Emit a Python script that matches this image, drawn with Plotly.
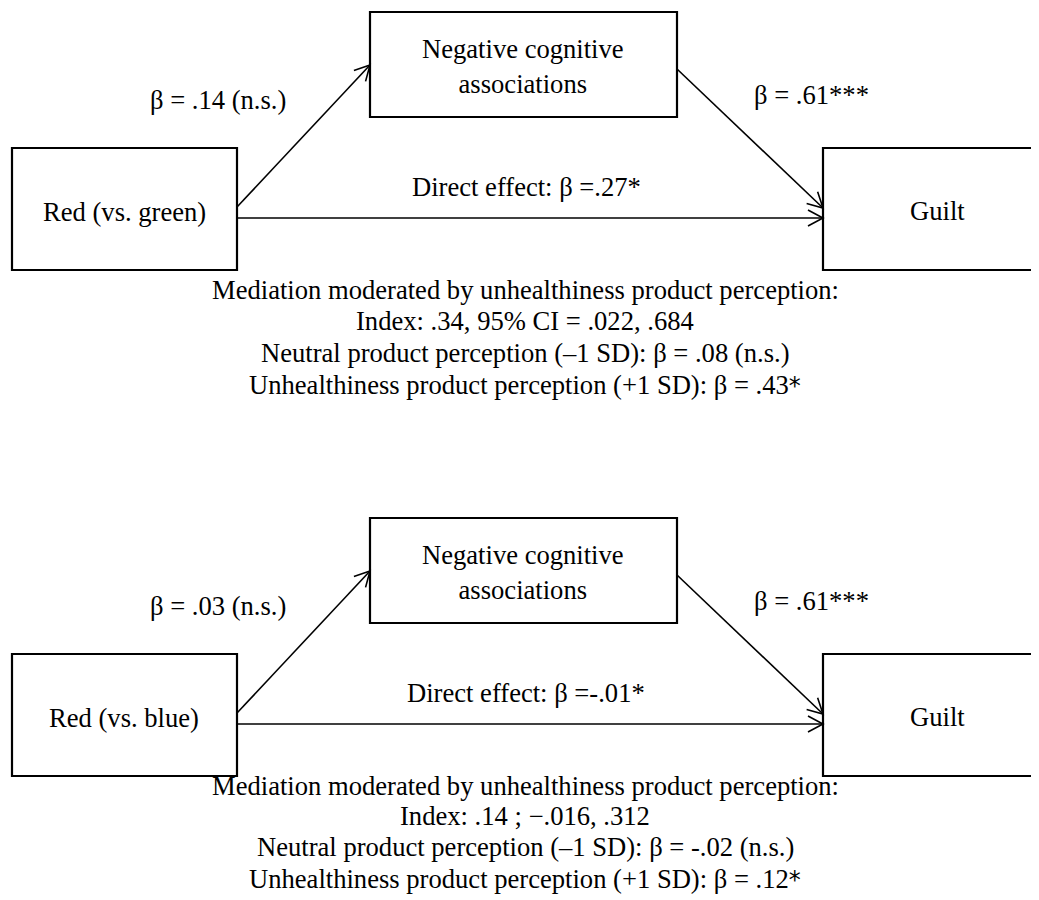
import math
import plotly.graph_objects as go

# ---- content ----
predictor_labels = ["Red (vs. green)", "Red (vs. blue)"]
mediator_label = "Negative cognitive<br>associations"
outcome_label = "Guilt"
a_path_labels = ["β = .14 (n.s.)", "β = .03 (n.s.)"]
b_path_labels = ["β = .61***", "β = .61***"]
direct_labels = ["Direct effect: β =.27*", "Direct effect: β =-.01*"]
moderation_lines = [
    ["Mediation moderated by unhealthiness product perception:",
     "Index: .34, 95% CI = .022, .684",
     "Neutral product perception (–1 SD): β = .08 (n.s.)",
     "Unhealthiness product perception (+1 SD): β = .43<span style='font-family:DejaVu Sans;font-size:24px'>*</span>"],
    ["Mediation moderated by unhealthiness product perception:",
     "Index: .14 ; −.016, .312",
     "Neutral product perception (–1 SD): β = -.02 (n.s.)",
     "Unhealthiness product perception (+1 SD): β = .12<span style='font-family:DejaVu Sans;font-size:24px'>*</span>"],
]

# ---- layout geometry (pixels) ----
W, H = 1039, 900
PAGE_OFF = 8  # default body margin of the page
panel_offsets = [0, 506]
text_rows = [[290, 321, 353, 385], [786, 816, 847, 879]]
FONT = "Liberation Serif, Times New Roman, serif"
FS = 26.6

fig = go.Figure()
shapes = []
annotations = []


def rect(x0, y0, x1, y1):
    shapes.append(dict(type="rect", xref="x", yref="y", x0=x0, y0=y0, x1=x1, y1=y1,
                       line=dict(color="black", width=2.2), fillcolor="white", layer="below"))


def arrow(x0, y0, x1, y1):
    shapes.append(dict(type="line", xref="x", yref="y", x0=x0, y0=y0, x1=x1, y1=y1,
                       line=dict(color="black", width=1.6)))
    dx, dy = x1 - x0, y1 - y0
    n = math.hypot(dx, dy)
    ux, uy = dx / n, dy / n
    L, th = 17, math.radians(28)
    pts = []
    for s in (1, -1):
        c, sn = math.cos(s * th), math.sin(s * th)
        rx = ux * c - uy * sn
        ry = ux * sn + uy * c
        pts.append((x1 - L * rx, y1 - L * ry))
    path = f"M{pts[0][0]:.2f},{pts[0][1]:.2f} L{x1:.2f},{y1:.2f} L{pts[1][0]:.2f},{pts[1][1]:.2f}"
    shapes.append(dict(type="path", xref="x", yref="y", path=path,
                       line=dict(color="black", width=1.6)))


def text(x, y, s, size=FS):
    annotations.append(dict(x=x, y=y, xref="x", yref="y", text=s, showarrow=False,
                            xanchor="center", yanchor="middle",
                            font=dict(family=FONT, size=size, color="black")))


for i, off in enumerate(panel_offsets):
    # boxes
    rect(12, 148 + off, 237, 270 + off)
    rect(370, 12 + off, 677, 117 + off)
    rect(823, 148 + off, 1070, 270 + off)
    # arrows
    arrow(237, 207 + off, 370, 65 + off)
    arrow(677, 69 + off, 823, 208 + off)
    arrow(237, 218 + off, 823, 218 + off)
    # labels
    text(124, 212 + off, predictor_labels[i])
    text(523, 66 + off, mediator_label)
    text(937, 211 + off, outcome_label)
    text(218, 100 + off, a_path_labels[i])
    text(811, 95 + off, b_path_labels[i])
    text(526, 187 + off, direct_labels[i])
    for j, line in enumerate(moderation_lines[i]):
        text(525, text_rows[i][j], line)

fig.update_layout(
    width=W, height=H,
    margin=dict(l=0, r=0, t=0, b=0),
    paper_bgcolor="white", plot_bgcolor="white",
    xaxis=dict(range=[PAGE_OFF, W + PAGE_OFF], visible=False, fixedrange=True),
    yaxis=dict(range=[H + PAGE_OFF, PAGE_OFF], visible=False, fixedrange=True),
    shapes=shapes, annotations=annotations, showlegend=False,
)

fig.write_html("out.html")
